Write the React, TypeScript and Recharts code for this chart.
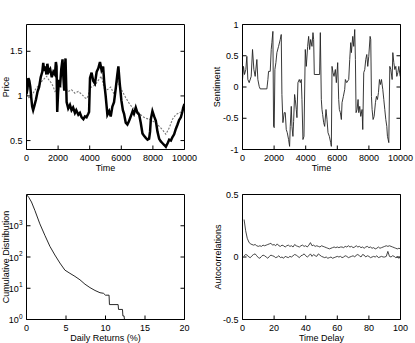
import React from 'react';
import { LineChart, Line, XAxis, YAxis } from 'recharts';

const FONT = '"Liberation Sans", Arial, Helvetica, sans-serif';
const W = 415;
const H = 343;

// ---- Price (top left) ----
const priceTime = [
  0, 60, 120, 180, 240, 300, 360, 420, 500, 600,
  700, 800, 900, 1000, 1060, 1120, 1200, 1260, 1320, 1400,
  1500, 1600, 1700, 1800, 1860, 1900, 1945, 2000, 2060, 2120,
  2200, 2280, 2330, 2390, 2430, 2470, 2540, 2640, 2750, 2850,
  2950, 3065, 3150, 3280, 3380, 3490, 3600, 3700, 3800, 3910,
  3960, 4020, 4120, 4220, 4330, 4440, 4545, 4650, 4750, 4850,
  4920, 5010, 5120, 5230, 5330, 5435, 5540, 5645, 5750, 5815,
  5900, 6005, 6100, 6175, 6280, 6385, 6470, 6555, 6640, 6720,
  6800, 6915, 7020, 7130, 7230, 7340, 7450, 7550, 7660, 7760,
  7820, 7870, 7970, 8080, 8185, 8290, 8395, 8500, 8610, 8720,
  8820, 8930, 9030, 9140, 9240, 9345, 9450, 9560, 9660, 9770,
  9860, 9920, 10000,
];
const priceValue = [
  1.02, 1.08, 1.2, 1.17, 1.1, 0.98, 0.88, 0.84, 0.89, 0.96,
  1.05, 1.1, 1.21, 1.27, 1.37, 1.28, 1.33, 1.24, 1.36, 1.27,
  1.3, 1.21, 1.27, 1.24, 1.38, 1.33, 0.82, 1.04, 1.18, 1.1,
  1.3, 1.41, 1.22, 1.06, 1.3, 1.42, 0.93, 0.86, 0.9, 0.84,
  0.87, 0.81, 0.84, 0.79, 0.81, 0.76, 0.74, 0.77, 0.76, 0.8,
  0.82, 1.2, 1.26, 1.17, 1.14, 1.27, 1.31, 1.38, 1.29, 1.33,
  1.15, 1.0, 0.79, 0.83, 0.77, 0.88, 0.93, 1.08, 1.24, 1.33,
  1.14, 0.95, 0.84, 0.8, 0.7, 0.68, 0.71, 0.75, 0.79, 0.83,
  0.8, 0.87, 0.81, 0.79, 0.7, 0.58, 0.55, 0.53, 0.51, 0.52,
  0.6, 0.74, 0.83, 0.77, 0.72, 0.6, 0.52, 0.49, 0.47, 0.45,
  0.43, 0.47, 0.51, 0.5, 0.54, 0.57, 0.63, 0.68, 0.73, 0.76,
  0.82, 0.87, 0.91,
];
const fundTime = [
  0, 150, 300, 450, 630, 800, 950, 1160, 1270, 1375,
  1590, 1700, 1800, 1900, 2010, 2220, 2430, 2640, 2850, 3065,
  3280, 3490, 3700, 3800, 3900, 4020, 4330, 4650, 4750, 4905,
  5120, 5330, 5540, 5750, 5850, 6070, 6280, 6490, 6700, 6915,
  7125, 7340, 7550, 7760, 7970, 8185, 8395, 8610, 8820, 9030,
  9240, 9450, 9660, 9870, 10000,
];
const fundValue = [
  1.02, 0.98, 1.0, 1.04, 1.09, 1.12, 1.16, 1.2, 1.22, 1.19,
  1.14, 1.1, 1.05, 1.07, 1.09, 1.1, 1.09, 1.05, 1.07, 1.03,
  1.05, 1.02, 0.98, 0.97, 1.0, 1.09, 1.12, 1.2, 1.22, 1.09,
  1.07, 1.1, 1.02, 1.16, 1.13, 1.05, 0.98, 0.92, 0.87, 0.85,
  0.81, 0.77, 0.75, 0.74, 0.72, 0.7, 0.66, 0.62, 0.57, 0.64,
  0.74, 0.79, 0.81, 0.83, 0.87,
];
const timeTicks = [0, 2000, 4000, 6000, 8000, 10000];
const priceTicks = [0.5, 1, 1.5];

// ---- Sentiment (top right) ----
const sentTime = [
  0, 63, 127, 211, 275, 338, 423, 550, 634, 719,
  803, 909, 972, 1057, 1120, 1543, 1607, 1649, 1755, 1818,
  1860, 1924, 1966, 2008, 2051, 2114, 2177, 2283, 2389, 2452,
  2495, 2558, 2643, 2706, 2769, 2833, 2917, 2981, 3023, 3087,
  3129, 3192, 3235, 3298, 3340, 3404, 3446, 3509, 3594, 3657,
  3721, 3763, 3826, 3890, 3974, 4038, 4123, 4186, 4249, 4313,
  4397, 4461, 4503, 4545, 4880, 4926, 4989, 5031, 5074, 5137,
  5200, 5285, 5349, 5412, 5497, 5581, 5624, 5666, 5729, 5793,
  5877, 5940, 6025, 6088, 6131, 6194, 6257, 6300, 6384, 6469,
  6511, 6596, 6723, 6786, 6850, 6892, 6977, 7040, 7103, 7146,
  7188, 7251, 7315, 7357, 7420, 7484, 7568, 7611, 7674, 7738,
  7801, 7865, 7928, 7992, 8076, 8118, 8161, 8203, 8266, 8330,
  8414, 8478, 8541, 8605, 8668, 8731, 8795, 8879, 8943, 9006,
  9070, 9133, 9175, 9218, 9260, 9323, 9387, 9471, 9514, 9577,
  9641, 9704, 9767, 9831, 9894, 9979,
];
const sentValue = [
  0.12, 0.33, 0.2, 0.28, 0.49, 0.12, 0.07, 0.17, 0.6, 0.28,
  0.17, 0.44, 0.12, 0.01, -0.03, -0.03, 0.12, 0.25, 0.25, 0.6,
  0.71, 0.89, -0.63, -0.65, 0.28, 0.39, 0.55, 0.65, 0.76, 0.84,
  -0.12, -0.57, -0.41, -0.41, -0.68, -0.73, -0.84, -0.95, -0.63, -0.31,
  -0.63, -0.79, -0.55, -0.12, -0.2, -0.36, -0.49, 0.07, 0.12, 0.07,
  0.12, -0.2, -0.84, -0.79, 0.6, 0.33, 0.65, 0.81, 0.6, 0.76,
  0.65, 0.87, 0.76, 0.2, 0.2, 0.87, -0.2, -0.36, -0.44, -0.57,
  -0.63, -0.36, -0.52, -0.73, -0.79, -0.89, -0.95, 0.33, 0.23, 0.17,
  0.28, 0.07, 0.39, -0.2, -0.36, -0.41, -0.52, -0.25, -0.15, -0.04,
  0.12, 0.07, 0.12, 0.44, 0.71, 0.55, 0.81, 0.65, 0.92, 0.44,
  -0.41, -0.36, -0.2, -0.41, -0.31, -0.47, -0.36, -0.68, 0.23, 0.28,
  0.44, 0.52, 0.33, 0.49, 0.81, 0.76, -0.15, -0.36, -0.52, -0.47,
  -0.25, -0.15, -0.2, -0.09, 0.12, 0.04, 0.12, -0.04, -0.2, -0.36,
  -0.52, -0.63, -0.79, -0.84, -0.89, 0.33, 0.28, 0.12, 0.55, 0.39,
  0.28, 0.33, 0.17, 0.23, 0.33, 0.17,
];
const sentTicks = [-1, -0.5, 0, 0.5, 1];

// ---- Cumulative distribution (bottom left) ----
const cdfReturn = [
  0, 0.3, 0.63, 1.06, 1.69, 2.33, 2.96, 3.59, 4.23, 4.86,
  5.5, 6.13, 6.77, 7.4, 8.03, 8.67, 9.3, 9.74, 10.0, 10.45,
  10.5, 11.6, 11.65, 12.15, 12.2, 12.35, 12.4,
];
const cdfCount = [
  10000, 8000, 5750, 3100, 1150, 490, 220, 116, 64, 38,
  30, 24, 18.6, 13.5, 10.5, 8.5, 7.2, 6.9, 6.0, 6.0,
  3.0, 3.0, 2.1, 2.1, 1.3, 1.3, 1.0,
];
const returnTicks = [0, 5, 10, 15, 20];
const countTicks = [1, 10, 100, 1000];

// ---- Autocorrelations (bottom right) ----
const lags = Array.from({ length: 100 }, (_, i) => i + 1);
const acfAbs = [
  0.3, 0.21, 0.15, 0.12, 0.105, 0.1, 0.095, 0.1, 0.09, 0.085,
  0.09, 0.085, 0.095, 0.09, 0.095, 0.1, 0.105, 0.11, 0.095, 0.1,
  0.09, 0.105, 0.09, 0.085, 0.095, 0.09, 0.08, 0.09, 0.095, 0.085,
  0.09, 0.08, 0.1, 0.09, 0.085, 0.08, 0.09, 0.095, 0.085, 0.09,
  0.08, 0.095, 0.115, 0.09, 0.095, 0.085, 0.09, 0.085, 0.08, 0.09,
  0.085, 0.08, 0.075, 0.07, 0.065, 0.07, 0.075, 0.08, 0.075, 0.08,
  0.075, 0.08, 0.08, 0.075, 0.085, 0.08, 0.09, 0.08, 0.085, 0.075,
  0.08, 0.09, 0.08, 0.085, 0.075, 0.08, 0.07, 0.08, 0.085, 0.075,
  0.08, 0.07, 0.075, 0.065, 0.07, 0.08, 0.07, 0.075, 0.08, 0.085,
  0.09, 0.085, 0.09, 0.085, 0.08, 0.075, 0.07, 0.065, 0.07, 0.065,
];
const acfRaw = [
  0.01, 0.02, 0.015, 0.0, -0.005, 0.01, 0.02, 0.025, 0.01, -0.005,
  -0.01, 0.005, 0.015, 0.01, 0.0, -0.01, 0.005, 0.015, 0.01, 0.005,
  -0.005, 0.0, 0.01, -0.005, 0.0, -0.01, 0.005, 0.0, -0.005, 0.005,
  0.0, 0.01, 0.02, 0.015, 0.005, -0.005, 0.01, 0.015, 0.025, 0.01,
  0.0, 0.01, 0.025, 0.005, 0.02, 0.01, 0.005, 0.025, 0.015, 0.005,
  0.0, -0.005, 0.0, -0.01, -0.005, 0.0, -0.01, -0.005, 0.0, 0.005,
  0.0, 0.005, -0.005, 0.0, 0.01, 0.005, -0.005, 0.0, 0.005, 0.01,
  0.0, 0.015, 0.02, 0.01, 0.0, 0.02, 0.015, 0.0, 0.01, 0.005,
  -0.005, 0.0, 0.005, 0.0, 0.01, -0.005, 0.0, 0.005, 0.0, 0.0,
  0.005, 0.045, 0.005, 0.0, 0.01, 0.005, -0.005, 0.0, -0.01, 0.0,
];
const lagTicks = [0, 20, 40, 60, 80, 100];
const acfTicks = [-0.5, 0, 0.5];

const pairs = (xs: number[], ys: number[]) => xs.map((x, i) => ({ x, y: ys[i] }));

// plot boxes of the four panels (page pixels)
type Box = { l: number; r: number; t: number; b: number };
const Y_AXIS_W = 26;
const X_AXIS_H = 22;
const boxTL: Box = { l: 26.5, r: 184.5, t: 24.5, b: 149.5 };
const boxTR: Box = { l: 242.5, r: 400.5, t: 24.5, b: 149.5 };
const boxBL: Box = { l: 26.5, r: 184.5, t: 194.5, b: 319.5 };
const boxBR: Box = { l: 242.5, r: 400.5, t: 194.5, b: 319.5 };

const marginFor = (b: Box) => ({
  left: b.l - Y_AXIS_W,
  right: W - b.r - 1,
  top: b.t - 1,
  bottom: H - b.b - X_AXIS_H,
});

const tickStyle = { fill: '#000', fontSize: 9, fontFamily: FONT };
const frameLine = { stroke: '#000', strokeWidth: 1 };

const xTitle = (text: string) => ({
  content: (p: any) => {
    const vb = p.viewBox;
    return (
      <text x={vb.x + vb.width / 2} y={vb.y + 21.8} textAnchor="middle" fontSize={9} fontFamily={FONT} fill="#000">
        {text}
      </text>
    );
  },
});

const yTitle = (text: string, gap: number) => ({
  content: (p: any) => {
    const vb = p.viewBox;
    const cx = vb.x + vb.width - gap;
    const cy = vb.y + vb.height / 2;
    return (
      <text x={cx} y={cy} dy={3.2} transform={`rotate(-90 ${cx} ${cy})`} textAnchor="middle" fontSize={9} fontFamily={FONT} fill="#000">
        {text}
      </text>
    );
  },
});

const PowerTick = (props: any) => {
  const { x, y, payload } = props;
  const exp = Math.round(Math.log10(payload.value));
  return (
    <text x={x} y={y} dy={3.5} textAnchor="end" fontSize={9} fontFamily={FONT} fill="#000">
      10<tspan dy={-4.5} fontSize={6.5}>{exp}</tspan>
    </text>
  );
};

type FrameOpts = {
  xDomain: number[];
  xTicks: number[];
  yDomain: number[];
  yTicks: number[];
  xLabel: string;
  yLabel: string;
  yGap: number;
  log?: boolean;
};

// MATLAB style boxed axes: inward ticks on all four sides
function frameAxes(o: FrameOpts) {
  const scale = o.log ? 'log' : 'auto';
  return [
    <XAxis key="xb" xAxisId={0} type="number" dataKey="x" domain={o.xDomain} ticks={o.xTicks}
      allowDataOverflow interval={0} height={X_AXIS_H} tickSize={-4} tickMargin={9.5}
      tick={tickStyle} axisLine={frameLine} tickLine={frameLine} label={xTitle(o.xLabel)} />,
    <XAxis key="xt" xAxisId="top" orientation="top" type="number" domain={o.xDomain} ticks={o.xTicks}
      allowDataOverflow interval={0} height={1} tickSize={-4} tickFormatter={() => ''}
      axisLine={frameLine} tickLine={frameLine} />,
    <YAxis key="yl" yAxisId={0} type="number" scale={scale} domain={o.yDomain} ticks={o.yTicks}
      allowDataOverflow interval={0} width={Y_AXIS_W} tickSize={-4} tickMargin={8}
      tick={o.log ? <PowerTick /> : tickStyle} axisLine={frameLine} tickLine={frameLine}
      label={yTitle(o.yLabel, o.yGap)} />,
    <YAxis key="yr" yAxisId="right" orientation="right" type="number" scale={scale} domain={o.yDomain}
      ticks={o.yTicks} allowDataOverflow interval={0} width={1} tickSize={-4} tickFormatter={() => ''}
      axisLine={frameLine} tickLine={frameLine} />,
  ];
}

const layer: React.CSSProperties = { position: 'absolute', left: 0, top: 0 };

export default function App() {
  return (
    <div style={{ position: 'absolute', left: 0, top: 0, width: W, height: H, background: '#fff' }}>
      <div style={layer}>
        <LineChart width={W} height={H} margin={marginFor(boxTL)}>
          {frameAxes({ xDomain: [0, 10000], xTicks: timeTicks, yDomain: [0.4, 1.8], yTicks: priceTicks, xLabel: 'Time', yLabel: 'Price', yGap: 20.5 })}
          <Line data={pairs(fundTime, fundValue)} dataKey="y" type="linear" dot={false} isAnimationActive={false}
            stroke="#777" strokeWidth={1.1} strokeDasharray="2 1.5" />
          <Line data={pairs(priceTime, priceValue)} dataKey="y" type="linear" dot={false} isAnimationActive={false}
            stroke="#000" strokeWidth={2.5} strokeLinejoin="miter" />
        </LineChart>
      </div>
      <div style={layer}>
        <LineChart width={W} height={H} margin={marginFor(boxTR)}>
          {frameAxes({ xDomain: [0, 10000], xTicks: timeTicks, yDomain: [-1, 1], yTicks: sentTicks, xLabel: 'Time', yLabel: 'Sentiment', yGap: 25.5 })}
          <Line data={pairs(sentTime, sentValue)} dataKey="y" type="linear" dot={false} isAnimationActive={false}
            stroke="#222" strokeWidth={0.9} />
        </LineChart>
      </div>
      <div style={layer}>
        <LineChart width={W} height={H} margin={marginFor(boxBL)}>
          {frameAxes({ xDomain: [0, 20], xTicks: returnTicks, yDomain: [1, 10000], yTicks: countTicks, xLabel: 'Daily Returns (%)', yLabel: 'Cumulative Distribution', yGap: 20.5, log: true })}
          <Line data={pairs(cdfReturn, cdfCount)} dataKey="y" type="linear" dot={false} isAnimationActive={false}
            stroke="#111" strokeWidth={0.9} />
        </LineChart>
      </div>
      <div style={layer}>
        <LineChart width={W} height={H} margin={marginFor(boxBR)}>
          {frameAxes({ xDomain: [0, 100], xTicks: lagTicks, yDomain: [-0.5, 0.5], yTicks: acfTicks, xLabel: 'Time Delay', yLabel: 'Autocorrelations', yGap: 25 })}
          <Line data={pairs(lags, acfAbs)} dataKey="y" type="linear" dot={false} isAnimationActive={false}
            stroke="#333" strokeWidth={0.9} />
          <Line data={pairs(lags, acfRaw)} dataKey="y" type="linear" dot={false} isAnimationActive={false}
            stroke="#333" strokeWidth={0.9} />
        </LineChart>
      </div>
    </div>
  );
}
